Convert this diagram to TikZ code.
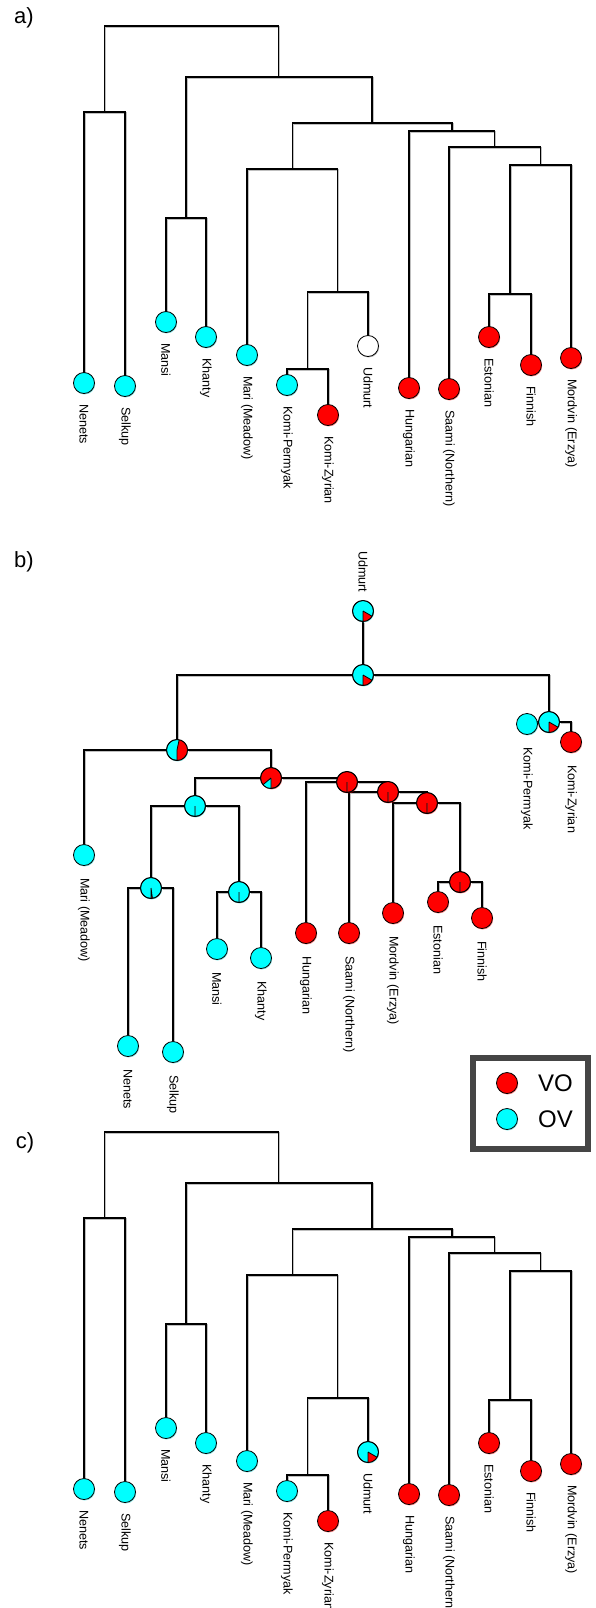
\documentclass[tikz,border=0pt]{standalone}
\usepackage{fontspec}
\setmainfont{Liberation Sans}
\usetikzlibrary{calc,positioning,shadows,backgrounds}
\definecolor{vocol}{RGB}{255,0,0}
\definecolor{ovcol}{RGB}{0,255,255}
\tikzset{
	leaf/.style={circle,draw,line width=0.8pt,minimum size=21pt,inner sep=0pt},
	vo/.style={leaf,fill=vocol,drop shadow={shadow xshift=0.7pt,shadow yshift=-1pt,fill=vocol,opacity=.45}},
	ov/.style={leaf,fill=ovcol,drop shadow={shadow xshift=0.7pt,shadow yshift=-1pt,fill=ovcol!80!black,opacity=.45}},
	na/.style={leaf,fill=white,drop shadow={shadow xshift=0.7pt,shadow yshift=-1pt,fill=black,opacity=.25}},
	branch/.style={line width=1.5pt,preaction={draw=black!25,line width=1.5pt,transform canvas={xshift=1pt,yshift=-1pt}}},
	lab/.style={rotate=-90,anchor=west,inner sep=0pt,font=\fontsize{12.6}{15}\selectfont},
	panel/.style={font=\fontsize{22}{26}\selectfont},
	key/.style={inner sep=0pt,font=\fontsize{24}{28}\selectfont}
}

% node with a wedge: name, position, style, wedge colour, wedge from, wedge to
\newcommand{\pienode}[6]{%
	\node[#3] (#1) at (#2) {};
	\fill[#4] (#1.center) -- +(#5:10.5pt) arc[start angle=#5,end angle=#6,radius=10.5pt] -- cycle;
	\draw[line width=0.8pt] (#1.center) -- +(#5:10.5pt) (#1.center) -- +(#6:10.5pt)
		(#1.center) circle[radius=10.5pt];
}

% tree of panels a) and c): name prefix, Udmurt node
\newcommand{\fintree}[2]{%
	\coordinate (#1-root) at (191.5,26);
	\coordinate (#1-ns) at (104.5,112);
	\coordinate (#1-r1) at (278.5,77);
	\coordinate (#1-mk) at (186,218);
	\coordinate (#1-r2) at (372,123);
	\coordinate (#1-pm) at (292.5,169);
	\coordinate (#1-perm) at (337.5,292);
	\coordinate (#1-komi) at (307.5,369);
	\coordinate (#1-r3) at (452,131);
	\coordinate (#1-r4) at (494.5,147);
	\coordinate (#1-r5) at (540.5,165);
	\coordinate (#1-fin) at (510,294);
	\foreach \n/\x/\y/\st/\lbl in {nenets/84/383/ov/Nenets,selkup/125/386/ov/Selkup,
		mansi/166/322/ov/Mansi,khanty/206/337/ov/Khanty,mari/247/355/ov/Mari (Meadow),
		kp/287/385/ov/Komi-Permyak,kz/328/415/vo/Komi-Zyrian,hungarian/409/388/vo/Hungarian,
		saami/449/389/vo/Saami (Northern),estonian/489/337/vo/Estonian,
		finnish/531/365/vo/Finnish,mordvin/571/358/vo/Mordvin (Erzya)}{
		\node[\st] (#1-\n) at (\x,\y) {};
		\node[lab] (#1-\n-l) at ([yshift=-10pt]#1-\n.south) {\lbl};
	}
	#2
	\node[lab] (#1-udmurt-l) at ([yshift=-10pt]#1-udmurt.south) {Udmurt};
	\begin{scope}[on background layer]
		\draw[branch] (#1-root) -| (#1-ns) (#1-root) -| (#1-r1)
			(#1-ns) -| (#1-nenets) (#1-ns) -| (#1-selkup)
			(#1-r1) -| (#1-mk) (#1-r1) -| (#1-r2)
			(#1-mk) -| (#1-mansi) (#1-mk) -| (#1-khanty)
			(#1-r2) -| (#1-pm) (#1-r2) -| (#1-r3)
			(#1-pm) -| (#1-mari) (#1-pm) -| (#1-perm)
			(#1-perm) -| (#1-komi) (#1-perm) -| (#1-udmurt)
			(#1-komi) -| (#1-kp) (#1-komi) -| (#1-kz)
			(#1-r3) -| (#1-hungarian) (#1-r3) -| (#1-r4)
			(#1-r4) -| (#1-saami) (#1-r4) -| (#1-r5)
			(#1-r5) -| (#1-fin) (#1-r5) -| (#1-mordvin)
			(#1-fin) -| (#1-estonian) (#1-fin) -| (#1-finnish);
	\end{scope}
}

\begin{document}
\begin{tikzpicture}[x=1pt,y=-1pt]
\useasboundingbox (0,0) rectangle (595,1608);

% a)
\node[panel] (a-title) at (24,18) {a)};
\fintree{a}{\node[na] (a-udmurt) at (368,346) {};}

% b)
\node[panel] (b-title) at (24,562) {b)};
\pienode{b-udmurt}{363,611}{ov}{vocol}{-90}{-30}
\node[lab,anchor=east] (b-udmurt-l) at ([yshift=7.5pt]b-udmurt.north) {Udmurt};
\pienode{b-root}{363,675}{ov}{vocol}{-90}{-30}
\foreach \n/\x/\y/\st/\lbl in {kp/527/724/ov/Komi-Permyak,kz/571/742/vo/Komi-Zyrian,
	mari/84/855/ov/Mari (Meadow),nenets/128/1046/ov/Nenets,selkup/173/1052/ov/Selkup,
	mansi/217/949/ov/Mansi,khanty/261/958/ov/Khanty,hungarian/306/933/vo/Hungarian,
	saami/349/933/vo/Saami (Northern),mordvin/393/913/vo/Mordvin (Erzya),
	estonian/438/902/vo/Estonian,finnish/482/918/vo/Finnish}{
	\node[\st] (b-\n) at (\x,\y) {};
	\node[lab] (b-\n-l) at ([yshift=-12pt]b-\n.south) {\lbl};
}
\pienode{b-komi}{549,722}{ov}{vocol}{-90}{-30}
\pienode{b-ug}{177,750}{ov}{vocol}{-90}{78}
\pienode{b-fu}{271,778}{vo}{ovcol}{220}{270}
\pienode{b-sam}{195,806}{ov}{vocol}{-90}{-90}
\pienode{b-ns}{151,888}{ov}{vocol}{-90}{-82}
\pienode{b-mk}{239,892}{ov}{vocol}{-90}{-90}
\pienode{b-fp}{347,782}{vo}{ovcol}{-90}{-90}
\pienode{b-fs}{388,792}{vo}{ovcol}{-90}{-90}
\pienode{b-fm}{427,803}{vo}{ovcol}{-90}{-90}
\pienode{b-fin}{460,882}{vo}{ovcol}{-90}{-90}
\begin{scope}[on background layer]
	\draw[branch] (b-udmurt) -- (b-root)
		(b-root) -| (b-ug) (b-root) -| (b-komi)
		(b-komi) -| (b-kp) (b-komi) -| (b-kz)
		(b-ug) -| (b-mari) (b-ug) -| (b-fu)
		(b-fu) -| (b-sam) (b-fu) -| (b-fp)
		(b-sam) -| (b-ns) (b-sam) -| (b-mk)
		(b-ns) -| (b-nenets) (b-ns) -| (b-selkup)
		(b-mk) -| (b-mansi) (b-mk) -| (b-khanty)
		(b-fp) -| (b-hungarian) (b-fp) -| (b-fs)
		(b-fs) -| (b-saami) (b-fs) -| (b-fm)
		(b-fm) -| (b-mordvin) (b-fm) -| (b-fin)
		(b-fin) -| (b-estonian) (b-fin) -| (b-finnish);
\end{scope}

% legend
\node[draw=black!73,line width=6pt,fill=white,minimum width=115pt,minimum height=91pt,
	drop shadow={opacity=.35}] (key) at (530.5,1103.5) {};
\node[vo] (key-vo) at (507,1083) {};
\node[key,right=20pt of key-vo] (key-vo-l) {VO};
\node[ov] (key-ov) at (507,1119) {};
\node[key,right=20pt of key-ov] (key-ov-l) {OV};

% c)
\node[panel] (c-title) at (25,1143) {c)};
\begin{scope}[yshift=-1106pt]
	\fintree{c}{\pienode{c-udmurt}{368,346}{ov}{vocol}{-90}{-30}}
\end{scope}

\end{tikzpicture}
\end{document}
